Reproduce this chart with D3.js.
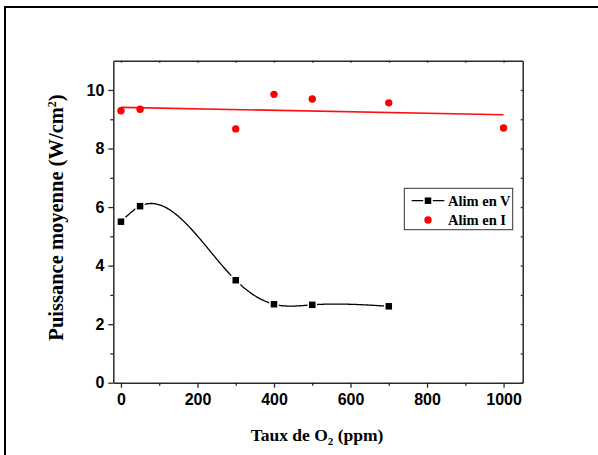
<!DOCTYPE html>
<html><head><meta charset="utf-8">
<script src="https://cdn.jsdelivr.net/npm/d3@7"></script>
<style>body{margin:0;background:#fff}svg{display:block}</style></head>
<body><svg id="c" width="598" height="455"></svg>
<script>
// ---- data ----
const o2V = [0, 50, 300, 400, 500, 700];
const alimV = [5.50, 6.03, 3.50, 2.68, 2.66, 2.61];
const o2I = [0, 50, 300, 400, 500, 700, 1000];
const alimI = [9.29, 9.34, 8.67, 9.85, 9.69, 9.56, 8.70];
const xTicks = [0, 200, 400, 600, 800, 1000];
const xMinor = [100, 300, 500, 700, 900];
const yTicks = [0, 2, 4, 6, 8, 10];
const yMinor = [1, 3, 5, 7, 9];
const seriesNames = ["Alim en V", "Alim en I"];
const xTitle = ["Taux de O", "2", " (ppm)"];
const yTitle = ["Puissance moyenne (W/cm", "2", ")"];

// ---- layout ----
const svg = d3.select("#c");
const P = {l: 113.3, r: 522.7, t: 60.7, b: 382.7};
const x = d3.scaleLinear().domain([-20, 1050]).range([P.l, P.r]);
const y = d3.scaleLinear().domain([0, 11]).range([P.b, P.t]);
const axisCol = "#2a2a2a";
const tickFont = "'Liberation Sans', Arial, sans-serif";
const serif = "'Liberation Serif', 'Times New Roman', serif";

// outer frame (right/bottom edges fall outside the picture)
svg.append("rect").attr("x", 5).attr("y", 7).attr("width", 640).attr("height", 480)
  .attr("fill", "none").attr("stroke", "#000").attr("stroke-width", 2);

function styleAxis(g) {
  g.select(".domain").attr("stroke", axisCol).attr("stroke-width", 1.5);
  g.selectAll(".tick line").attr("stroke", axisCol).attr("stroke-width", 1.3);
  g.selectAll(".tick text").attr("fill", "#000")
    .style("font-family", tickFont).style("font-weight", "bold").style("font-size", "16px");
}

// bottom axis
const gB = svg.append("g").attr("transform", `translate(0,${P.b})`)
  .call(d3.axisBottom(x).tickValues(xTicks).tickSize(5).tickSizeOuter(0).tickPadding(6).tickFormat(d3.format("d")));
styleAxis(gB);
const gBm = svg.append("g").attr("transform", `translate(0,${P.b})`)
  .call(d3.axisBottom(x).tickValues(xMinor).tickSize(3).tickSizeOuter(0).tickFormat(""));
gBm.select(".domain").remove(); styleAxis(gBm);

// left axis
const gL = svg.append("g").attr("transform", `translate(${P.l},0)`)
  .call(d3.axisLeft(y).tickValues(yTicks).tickSize(5).tickSizeOuter(0).tickPadding(4).tickFormat(d3.format("d")));
styleAxis(gL);
const gLm = svg.append("g").attr("transform", `translate(${P.l},0)`)
  .call(d3.axisLeft(y).tickValues(yMinor).tickSize(3).tickSizeOuter(0).tickFormat(""));
gLm.select(".domain").remove(); styleAxis(gLm);

// top & right axes (tiny ticks)
const gT = svg.append("g").attr("transform", `translate(0,${P.t})`)
  .call(d3.axisTop(x).tickValues(xTicks.concat(xMinor)).tickSize(-2).tickSizeOuter(0).tickFormat(""));
styleAxis(gT);
const gR = svg.append("g").attr("transform", `translate(${P.r},0)`)
  .call(d3.axisRight(y).tickValues(yTicks.concat(yMinor)).tickSize(-2).tickSizeOuter(0).tickFormat(""));
styleAxis(gR);

// linear fit of Alim en I
const mx = d3.mean(o2I), my = d3.mean(alimI);
const slope = d3.sum(o2I, (v, i) => (v - mx) * (alimI[i] - my)) / d3.sum(o2I, v => (v - mx) * (v - mx));
const icpt = my - slope * mx;
const fitX = [d3.min(o2I), d3.max(o2I)];
svg.append("path")
  .attr("d", d3.line()(fitX.map(v => [x(v), y(icpt + slope * v)])))
  .attr("stroke", "#ff1010").attr("stroke-width", 1.6).attr("fill", "none");

// natural cubic spline y(x) through the Alim en V points (rendering only)
function naturalSpline(xs, ys) {
  const n = xs.length, h = [], a = [], b = [], c = [], r = [];
  for (let i = 0; i < n - 1; i++) h[i] = xs[i + 1] - xs[i];
  const M = new Array(n).fill(0);
  const m = n - 2;
  for (let i = 1; i <= m; i++) {
    a[i] = h[i - 1]; b[i] = 2 * (h[i - 1] + h[i]); c[i] = h[i];
    r[i] = 6 * ((ys[i + 1] - ys[i]) / h[i] - (ys[i] - ys[i - 1]) / h[i - 1]);
  }
  for (let i = 2; i <= m; i++) { const w = a[i] / b[i - 1]; b[i] -= w * c[i - 1]; r[i] -= w * r[i - 1]; }
  for (let i = m; i >= 1; i--) M[i] = (r[i] - (i < m ? c[i] * M[i + 1] : 0)) / b[i];
  return t => {
    let i = 0; while (i < n - 2 && t > xs[i + 1]) i++;
    const hi = h[i], A = (xs[i + 1] - t) / hi, B = (t - xs[i]) / hi;
    return A * ys[i] + B * ys[i + 1] + ((A * A * A - A) * M[i] + (B * B * B - B) * M[i + 1]) * hi * hi / 6;
  };
}
const sp = naturalSpline(o2V, alimV);
const sx = d3.range(0, 301).map(k => o2V[0] + (o2V[o2V.length - 1] - o2V[0]) * k / 300);
svg.append("path")
  .attr("d", d3.line()(sx.map(t => [x(t), y(sp(t))])))
  .attr("stroke", "#000").attr("stroke-width", 1.3).attr("fill", "none");

// markers
const vPts = o2V.map((v, i) => [x(v), y(alimV[i])]);
const sq = 6.5;
svg.append("g").selectAll("rect").data(vPts).join("rect")
  .attr("x", d => d[0] - sq / 2).attr("y", d => d[1] - sq / 2)
  .attr("width", sq).attr("height", sq)
  .attr("fill", "#000").attr("stroke", "#fff").attr("stroke-width", 3).style("paint-order", "stroke");
svg.append("g").selectAll("circle").data(o2I.map((v, i) => [x(v), y(alimI[i])])).join("circle")
  .attr("cx", d => d[0]).attr("cy", d => d[1]).attr("r", 3.7).attr("fill", "#ff0000");

// legend
const lg = svg.append("g");
lg.append("rect").attr("x", 404.3).attr("y", 188.3).attr("width", 108.4).attr("height", 41.4)
  .attr("fill", "#fff").attr("stroke", "#333").attr("stroke-width", 1);
lg.append("line").attr("x1", 411.7).attr("x2", 444.3).attr("y1", 200.7).attr("y2", 200.7)
  .attr("stroke", "#000").attr("stroke-width", 1.3);
lg.append("rect").attr("x", 428 - sq / 2).attr("y", 200.7 - sq / 2).attr("width", sq).attr("height", sq)
  .attr("fill", "#000").attr("stroke", "#fff").attr("stroke-width", 3).style("paint-order", "stroke");
lg.append("circle").attr("cx", 428).attr("cy", 220).attr("r", 3.7).attr("fill", "#ff0000");
lg.selectAll("text").data(seriesNames).join("text")
  .attr("x", 448).attr("y", (d, i) => [205.5, 224.8][i])
  .text(d => d)
  .style("font-family", serif).style("font-weight", "bold").style("font-size", "14.5px");

// axis titles
const xt = svg.append("text").attr("x", 317).attr("y", 440.7).attr("text-anchor", "middle")
  .style("font-family", serif).style("font-weight", "bold").style("font-size", "17.5px");
xt.append("tspan").text(xTitle[0]);
xt.append("tspan").attr("dy", 4).style("font-size", "11px").text(xTitle[1]);
xt.append("tspan").attr("dy", -4).text(xTitle[2]);

const yt = svg.append("text").attr("transform", `translate(63,217.5) rotate(-90)`).attr("text-anchor", "middle")
  .style("font-family", serif).style("font-weight", "bold").style("font-size", "20.5px");
yt.append("tspan").text(yTitle[0]);
yt.append("tspan").attr("dy", -7).style("font-size", "12px").text(yTitle[1]);
yt.append("tspan").attr("dy", 7).text(yTitle[2]);
</script>
</body></html>
